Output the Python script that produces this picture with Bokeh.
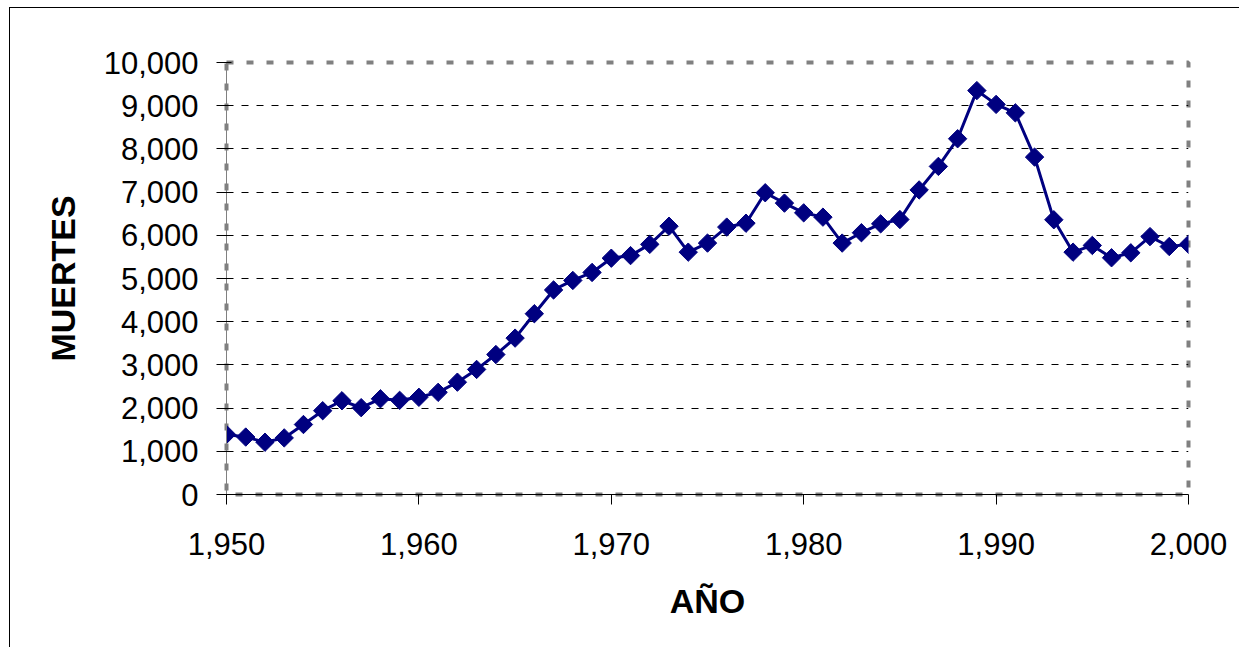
import numpy as np
from bokeh.plotting import figure
from bokeh.models import NumeralTickFormatter, FixedTicker, Range1d
from bokeh.embed import file_html
from bokeh.resources import INLINE

years = list(range(1950, 2001))
deaths = [1390, 1330, 1210, 1310, 1620, 1940, 2170, 2010, 2215, 2180,
          2250, 2365, 2600, 2895, 3240, 3620, 4185, 4735, 4955, 5140,
          5470, 5530, 5790, 6210, 5610, 5820, 6190, 6280, 6985, 6745,
          6520, 6420, 5820, 6060, 6265, 6365, 7050, 7595, 8235, 9350,
          9030, 8835, 7810, 6360, 5610, 5765, 5480, 5595, 5970, 5740,
          5790]
x_ticks = [1950, 1960, 1970, 1980, 1990, 2000]
y_ticks = list(range(0, 10001, 1000))
x_title = "AÑO"
y_title = "MUERTES"

FONT = "Liberation Sans"

p = figure(width=1230, height=640, output_backend="svg", toolbar_location=None,
           x_range=Range1d(1950, 2000), y_range=Range1d(0, 10000),
           min_border_left=216, min_border_right=52, min_border_top=54,
           min_border_bottom=154)
p.styles = {"margin-left": "9px", "margin-top": "7px",
            "border-left": "1px solid #000000", "border-top": "1px solid #000000"}

p.background_fill_color = "white"
p.border_fill_color = "white"
p.outline_line_color = "#808080"
p.outline_line_width = 4
p.outline_line_dash = "7 13"

p.xgrid.grid_line_color = None
p.ygrid.grid_line_color = "#000000"
p.ygrid.grid_line_width = 1
p.ygrid.grid_line_dash = "7 8"

p.xaxis.ticker = FixedTicker(ticks=x_ticks)
p.yaxis.ticker = FixedTicker(ticks=y_ticks)
p.xaxis.formatter = NumeralTickFormatter(format="0,0")
p.yaxis.formatter = NumeralTickFormatter(format="0,0")
for ax in (p.xaxis, p.yaxis):
    ax.minor_tick_line_color = None
    ax.major_label_text_font = FONT
    ax.major_label_text_font_size = "31px"
    ax.major_label_text_color = "#000000"
    ax.axis_label_text_font = FONT
    ax.axis_label_text_font_size = "34px"
    ax.axis_label_text_font_style = "bold"
    ax.axis_label_text_color = "#000000"
    ax.major_tick_line_color = "#000000"
    ax.major_tick_out = 10

p.xaxis.axis_line_color = "#000000"
p.xaxis.major_tick_in = 0
p.xaxis.major_label_standoff = 28
p.xaxis.axis_label_standoff = 24
p.xaxis.axis_label = x_title

p.yaxis.axis_line_color = "#808080"
p.yaxis.major_tick_in = 5
p.yaxis.major_label_standoff = 18
p.yaxis.axis_label_standoff = 19
p.yaxis.axis_label = y_title

p.line(years, deaths, line_color="#000080", line_width=3)
p.scatter(years, deaths, marker="square", angle=np.pi / 4, size=13,
          fill_color="#000080", line_color="#000080")

open("out.html", "w").write(file_html(p, INLINE))
